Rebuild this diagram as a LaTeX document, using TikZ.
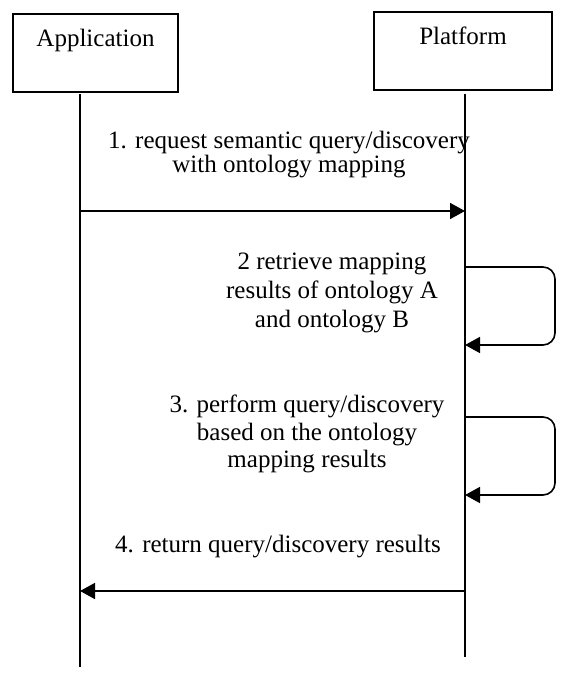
\documentclass[tikz,border=0pt]{standalone}
\usepackage{fontspec}
\setmainfont{Liberation Serif}
\usetikzlibrary{arrows.meta,positioning}
\tikzset{
	>={Triangle[length=15pt,width=16pt]},
	every node/.style={font=\fontsize{25}{28}\selectfont},
	actor/.style={
		rectangle,
		draw, line width=1.6pt,
		minimum width=165pt,
		text height=18pt,
		text depth=30pt,
		inner ysep=15pt,
		anchor=north},
	msg/.style={align=center, inner sep=0pt},
	lifeline/.style={draw, line width=1.6pt},
	call/.style={draw, line width=1.6pt, ->},
	selfcall/.style={call, rounded corners=12pt},
}

\begin{document}
\begin{tikzpicture}[x=1pt,y=-1pt]
\useasboundingbox (0,0) rectangle (569,676);

\node[actor] (app) at (95.5,13) {Application};
\node[actor, minimum width=178pt] (plat) at (463,11) {Platform};

% lifelines
\coordinate (appTop) at (80,94);
\coordinate (appEnd) at (80,667);
\coordinate (platTop) at (465,94);
\coordinate (platEnd) at (465,657);
\draw[lifeline] (appTop) -- (appEnd);
\draw[lifeline] (platTop) -- (platEnd);

% messages
\coordinate (req1) at (appTop |- 0,211);
\coordinate (req2) at (platTop |- 0,211);
\draw[call] (req1) -- (req2);
\node[msg, font=\fontsize{25}{24}\selectfont] (reqtxt) at (289,155)
	{1. request semantic query/discovery\\ with ontology mapping};

\coordinate (map1) at (platTop |- 0,267);
\coordinate (map2) at (platTop |- 0,345);
\draw[selfcall] (map1) -- ++(90,0) -- ++(0,78) -- (map2);
\node[msg, font=\fontsize{25}{29}\selectfont] (maptxt) at (332,293)
	{2 retrieve mapping\\ results of ontology A\\ and ontology B};

\coordinate (qry1) at (platTop |- 0,417);
\coordinate (qry2) at (platTop |- 0,495);
\draw[selfcall] (qry1) -- ++(90,0) -- ++(0,78) -- (qry2);
\node[msg, font=\fontsize{25}{27.5}\selectfont] (qrytxt) at (307,434)
	{3. perform query/discovery\\ based on the ontology\\ mapping results};

\coordinate (ret1) at (platTop |- 0,591);
\coordinate (ret2) at (appTop |- 0,591);
\draw[call] (ret1) -- (ret2);
\node[msg] (rettxt) at (278,547) {4. return query/discovery results};
\end{tikzpicture}
\end{document}
